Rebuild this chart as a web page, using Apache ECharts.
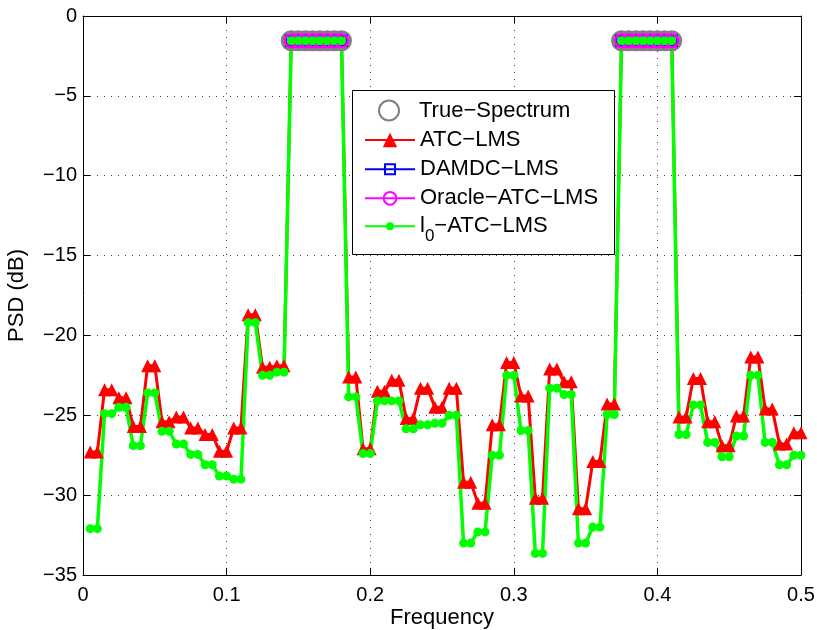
<!DOCTYPE html>
<html>
<head>
<meta charset="utf-8">
<script src="https://cdn.jsdelivr.net/npm/echarts@6/dist/echarts.min.js"></script>
<style>
  html, body { margin: 0; padding: 0; background: #fff; }
  #chart { width: 817px; height: 630px; }
</style>
</head>
<body>
<div id="chart"></div>
<script>
const freq = [
  0.005, 0.01, 0.015, 0.02, 0.025, 0.03, 0.035, 0.04, 0.045, 0.05,
  0.055, 0.06, 0.065, 0.07, 0.075, 0.08, 0.085, 0.09, 0.095, 0.1,
  0.105, 0.11, 0.115, 0.12, 0.125, 0.13, 0.135, 0.14, 0.145, 0.15,
  0.155, 0.16, 0.165, 0.17, 0.175, 0.18, 0.185, 0.19, 0.195, 0.2,
  0.205, 0.21, 0.215, 0.22, 0.225, 0.23, 0.235, 0.24, 0.245, 0.25,
  0.255, 0.26, 0.265, 0.27, 0.275, 0.28, 0.285, 0.29, 0.295, 0.3,
  0.305, 0.31, 0.315, 0.32, 0.325, 0.33, 0.335, 0.34, 0.345, 0.35,
  0.355, 0.36, 0.365, 0.37, 0.375, 0.38, 0.385, 0.39, 0.395, 0.4,
  0.405, 0.41, 0.415, 0.42, 0.425, 0.43, 0.435, 0.44, 0.445, 0.45,
  0.455, 0.46, 0.465, 0.47, 0.475, 0.48, 0.485, 0.49, 0.495, 0.5
];

// true spectrum and the two sparse estimators are only non-zero in the bands
const trueSpectrum = [
  null, null, null, null, null, null, null, null, null, null,
  null, null, null, null, null, null, null, null, null, null,
  null, null, null, null, null, null, null, null, -1.55, -1.55,
  -1.55, -1.55, -1.55, -1.55, -1.55, -1.55, null, null, null, null,
  null, null, null, null, null, null, null, null, null, null,
  null, null, null, null, null, null, null, null, null, null,
  null, null, null, null, null, null, null, null, null, null,
  null, null, null, null, -1.55, -1.55, -1.55, -1.55, -1.55, -1.55,
  -1.55, -1.55, null, null, null, null, null, null, null, null,
  null, null, null, null, null, null, null, null, null, null
];
const damdcLms = trueSpectrum.slice();
const oracleAtcLms = trueSpectrum.slice();

const atcLms = [
  -27.3, -27.3, -23.4, -23.4, -23.9, -23.9, -25.7, -25.7, -21.9, -21.9,
  -25.4, -25.4, -25.1, -25.1, -25.8, -25.8, -26.2, -26.2, -27.25, -27.25,
  -25.8, -25.8, -18.7, -18.7, -22.0, -22.0, -21.9, -21.9, -1.55, -1.55,
  -1.55, -1.55, -1.55, -1.55, -1.55, -1.55, -22.6, -22.6, -27.1, -27.1,
  -23.5, -23.5, -22.8, -22.8, -25.2, -25.2, -23.3, -23.3, -24.5, -24.5,
  -23.3, -23.3, -29.2, -29.2, -30.5, -30.5, -25.6, -25.6, -21.7, -21.7,
  -23.8, -23.8, -30.2, -30.2, -22.1, -22.1, -22.9, -22.9, -30.85, -30.85,
  -27.9, -27.9, -24.3, -24.3, -1.55, -1.55, -1.55, -1.55, -1.55, -1.55,
  -1.55, -1.55, -25.1, -25.1, -22.7, -22.7, -25.4, -25.4, -26.9, -26.9,
  -25.05, -25.05, -21.35, -21.35, -24.6, -24.6, -26.8, -26.8, -26.1, -26.1
];

const l0AtcLms = [
  -32.1, -32.1, -24.9, -24.9, -24.5, -24.5, -26.9, -26.9, -23.6, -23.6,
  -26.0, -26.0, -26.8, -26.8, -27.45, -27.45, -28.1, -28.1, -28.8, -28.8,
  -29.0, -29.0, -19.2, -19.2, -22.5, -22.5, -22.3, -22.3, -1.55, -1.55,
  -1.55, -1.55, -1.55, -1.55, -1.55, -1.55, -23.85, -23.85, -27.4, -27.4,
  -24.1, -24.1, -24.1, -24.1, -25.85, -25.85, -25.6, -25.6, -25.5, -25.5,
  -25.0, -25.0, -33.0, -33.0, -32.3, -32.3, -27.5, -27.5, -22.5, -22.5,
  -25.95, -25.95, -33.65, -33.65, -23.3, -23.3, -23.7, -23.7, -33.0, -33.0,
  -32.0, -32.0, -24.95, -24.95, -1.55, -1.55, -1.55, -1.55, -1.55, -1.55,
  -1.55, -1.55, -26.2, -26.2, -24.35, -24.35, -26.7, -26.7, -27.6, -27.6,
  -26.3, -26.3, -22.5, -22.5, -26.7, -26.7, -28.1, -28.1, -27.5, -27.5
];

const seriesNames = ['True\u2212Spectrum', 'ATC\u2212LMS', 'DAMDC\u2212LMS', 'Oracle\u2212ATC\u2212LMS', 'l0\u2212ATC\u2212LMS'];

const FONT = '"Liberation Sans", Arial, Helvetica, sans-serif';
const pairs = (ys) => freq.map((f, i) => [f, ys[i]]);
const minus = (v) => (v < 0 ? '\u2212' + Math.abs(v) : String(v));

const chart = echarts.init(document.getElementById('chart'), null, { renderer: 'canvas' });

const gridLine = { show: true, lineStyle: { color: '#444', width: 1, type: [1, 6] } };

// one legend per row so each entry keeps its own marker size (like matlab)
const legendTop = [99.5, 129, 158.3, 187.3, 207.2];
const legendIconH = [25, 18, 12.5, 16, 10];
const legendText = {
  fontFamily: FONT, fontSize: 22, color: '#000', lineHeight: 22,
  rich: {
    t: { fontFamily: FONT, fontSize: 22, color: '#000', lineHeight: 22 },
    s: { fontFamily: FONT, fontSize: 17, color: '#000', lineHeight: 22, padding: [21, 0, 0, 0] }
  }
};
const legends = seriesNames.map((name, i) => ({
  data: [name],
  left: 364,
  top: legendTop[i],
  padding: 0,
  itemWidth: 50,
  itemHeight: legendIconH[i],
  selectedMode: false,
  textStyle: legendText,
  formatter: (n) => n.indexOf('l0') === 0 ? '{t|l}{s|0}{t|\u2212ATC\u2212LMS}' : n,
  z: 10
}));

const option = {
  animation: false,
  backgroundColor: '#fff',
  grid: { left: 83, right: 16, top: 16, bottom: 55, outerBoundsMode: 'none', containLabel: false },
  legend: legends,
  graphic: [{
    type: 'rect', z: 5,
    shape: { x: 352.5, y: 90.5, width: 262, height: 164 },
    style: { fill: '#fff', stroke: '#000', lineWidth: 1 }
  }],
  xAxis: [
    {
      type: 'value', min: 0, max: 0.5, interval: 0.1, position: 'bottom',
      name: 'Frequency', nameLocation: 'middle', nameGap: 32, nameMoveOverlap: false,
      nameTextStyle: { fontFamily: FONT, fontSize: 22, color: '#000' },
      axisLine: { show: true, onZero: false, lineStyle: { color: '#000', width: 1 } },
      axisTick: { show: true, inside: true, length: 7, lineStyle: { color: '#000' } },
      axisLabel: { fontFamily: FONT, fontSize: 20, color: '#000', margin: 10,
        formatter: (v) => String(v) },
      splitLine: gridLine
    },
    {
      type: 'value', min: 0, max: 0.5, interval: 0.1, position: 'top',
      axisLine: { show: true, onZero: false, lineStyle: { color: '#000', width: 1 } },
      axisTick: { show: true, inside: true, length: 7, lineStyle: { color: '#000' } },
      axisLabel: { show: false },
      splitLine: { show: false }
    }
  ],
  yAxis: [
    {
      type: 'value', min: -35, max: 0, interval: 5, position: 'left',
      name: 'PSD (dB)', nameLocation: 'middle', nameGap: 55, nameMoveOverlap: false,
      nameTextStyle: { fontFamily: FONT, fontSize: 22, color: '#000' },
      axisLine: { show: true, onZero: false, lineStyle: { color: '#000', width: 1 } },
      axisTick: { show: true, inside: true, length: 7, lineStyle: { color: '#000' } },
      axisLabel: { fontFamily: FONT, fontSize: 20, color: '#000', margin: 6, formatter: minus },
      splitLine: gridLine
    },
    {
      type: 'value', min: -35, max: 0, interval: 5, position: 'right',
      axisLine: { show: true, onZero: false, lineStyle: { color: '#000', width: 1 } },
      axisTick: { show: true, inside: true, length: 7, lineStyle: { color: '#000' } },
      axisLabel: { show: false },
      splitLine: { show: false }
    }
  ],
  series: [
    {
      name: seriesNames[0], type: 'line', data: pairs(trueSpectrum),
      symbol: 'circle', symbolSize: 18, showAllSymbol: true,
      lineStyle: { width: 0, opacity: 0 },
      itemStyle: { color: 'rgba(255,255,255,0)', borderColor: '#808080', borderWidth: 3 }
    },
    {
      name: seriesNames[1], type: 'line', data: pairs(atcLms),
      symbol: 'triangle', symbolSize: 13, showAllSymbol: true,
      lineStyle: { color: '#ff0000', width: 3 },
      itemStyle: { color: '#ff0000' }
    },
    {
      name: seriesNames[2], type: 'line', data: pairs(damdcLms),
      symbol: 'rect', symbolSize: 10, showAllSymbol: true,
      lineStyle: { color: '#0000ff', width: 3 },
      itemStyle: { color: 'rgba(255,255,255,0)', borderColor: '#0000ff', borderWidth: 2.5 }
    },
    {
      name: seriesNames[3], type: 'line', data: pairs(oracleAtcLms),
      symbol: 'circle', symbolSize: 13, showAllSymbol: true,
      lineStyle: { color: '#ff00ff', width: 3 },
      itemStyle: { color: 'rgba(255,255,255,0)', borderColor: '#ff00ff', borderWidth: 2.5 }
    },
    {
      name: seriesNames[4], type: 'line', data: pairs(l0AtcLms),
      symbol: 'circle', symbolSize: 9, showAllSymbol: true,
      lineStyle: { color: '#00ff00', width: 3.5 },
      itemStyle: { color: '#00ff00' }
    }
  ]
};

chart.setOption(option);
</script>
</body>
</html>
